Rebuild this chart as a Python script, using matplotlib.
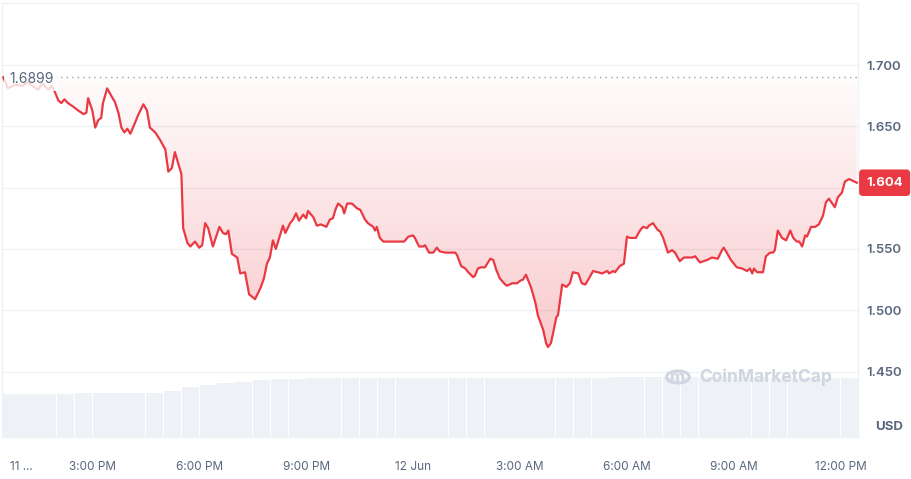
import matplotlib
matplotlib.use('Agg')
import matplotlib.pyplot as plt
from matplotlib.patches import Circle
import numpy as np

# minutes after 11 Jun 12:30 PM
times = [0, 8, 20, 32, 42, 49, 59, 66, 76, 82, 87, 93, 98, 103, 109, 118, 126, 135, 140, 143,
         150, 155, 160, 165, 168, 175, 183, 188, 194, 199, 204, 209, 214, 222, 227, 236, 242, 247, 256, 264,
         273, 278, 284, 289, 300, 303, 310, 315, 323, 330, 335, 340, 345, 353, 364, 370, 375, 379, 385, 394,
         399, 407, 414, 424, 433, 439, 444, 449, 454, 459, 471, 475, 483, 488, 493, 498, 505, 510, 513, 522,
         528, 535, 544, 550, 555, 560, 564, 571, 574, 579, 587, 596, 601, 609, 614, 623, 626, 629, 634, 640,
         648, 655, 665, 675, 682, 690, 693, 700, 707, 710, 717, 724, 730, 735, 744, 756, 761, 764, 771, 778,
         783, 791, 794, 799, 804, 811, 820, 825, 830, 836, 845, 848, 857, 865, 870, 875, 880, 889, 896, 900,
         909, 914, 917, 922, 926, 931, 934, 941, 948, 954, 959, 968, 974, 980, 985, 993, 1001, 1008, 1017, 1020,
         1027, 1030, 1038, 1045, 1050, 1055, 1065, 1072, 1077, 1084, 1087, 1094, 1101, 1106, 1111, 1119, 1126, 1131, 1139, 1146,
         1153, 1160, 1165, 1173, 1185, 1193, 1203, 1210, 1213, 1218, 1225, 1230, 1235, 1244, 1252, 1257, 1261, 1264, 1269, 1279,
         1284, 1291, 1296, 1299, 1304, 1311, 1318, 1325, 1330, 1336, 1340, 1345, 1350, 1353, 1360, 1367, 1373, 1380, 1385, 1390,
         1400, 1405, 1412, 1417, 1424, 1437]

prices = [1.690, 1.681, 1.684, 1.683, 1.686, 1.683, 1.680, 1.685, 1.680, 1.683, 1.678, 1.671, 1.669, 1.672, 1.669, 1.666, 1.663, 1.660, 1.661, 1.673,
          1.663, 1.649, 1.655, 1.657, 1.669, 1.681, 1.674, 1.670, 1.661, 1.649, 1.645, 1.648, 1.644, 1.653, 1.659, 1.668, 1.663, 1.649, 1.645, 1.639,
          1.631, 1.613, 1.616, 1.629, 1.611, 1.567, 1.555, 1.552, 1.556, 1.551, 1.553, 1.571, 1.567, 1.552, 1.568, 1.563, 1.562, 1.565, 1.546, 1.543,
          1.530, 1.531, 1.513, 1.509, 1.518, 1.526, 1.538, 1.543, 1.557, 1.550, 1.569, 1.563, 1.571, 1.574, 1.579, 1.573, 1.578, 1.575, 1.581, 1.576,
          1.569, 1.570, 1.568, 1.574, 1.575, 1.583, 1.587, 1.584, 1.579, 1.587, 1.587, 1.583, 1.582, 1.574, 1.571, 1.568, 1.565, 1.568, 1.559, 1.556,
          1.556, 1.556, 1.556, 1.556, 1.560, 1.561, 1.559, 1.552, 1.552, 1.553, 1.547, 1.547, 1.551, 1.548, 1.547, 1.547, 1.547, 1.545, 1.536, 1.534,
          1.531, 1.527, 1.528, 1.534, 1.535, 1.535, 1.542, 1.541, 1.533, 1.526, 1.521, 1.520, 1.522, 1.522, 1.524, 1.525, 1.529, 1.518, 1.506, 1.496,
          1.484, 1.473, 1.470, 1.473, 1.482, 1.494, 1.496, 1.521, 1.519, 1.522, 1.531, 1.530, 1.522, 1.521, 1.525, 1.532, 1.531, 1.530, 1.532, 1.530,
          1.532, 1.531, 1.536, 1.538, 1.560, 1.559, 1.559, 1.565, 1.568, 1.567, 1.569, 1.571, 1.566, 1.564, 1.559, 1.547, 1.549, 1.547, 1.540, 1.543,
          1.543, 1.543, 1.544, 1.539, 1.541, 1.543, 1.542, 1.549, 1.551, 1.547, 1.541, 1.538, 1.535, 1.534, 1.532, 1.534, 1.530, 1.534, 1.531, 1.531,
          1.544, 1.547, 1.547, 1.549, 1.565, 1.559, 1.557, 1.565, 1.559, 1.556, 1.556, 1.552, 1.561, 1.560, 1.568, 1.568, 1.570, 1.577, 1.588, 1.591,
          1.584, 1.592, 1.596, 1.605, 1.607, 1.604]

# half-hour volume bars (relative units)
vol_times = [15 + 30 * i for i in range(48)]
volumes = [43, 43, 43, 43, 44, 44, 44, 44, 44, 46, 50, 52, 54, 55, 57, 58,
           58, 59, 59, 59, 59, 59, 59, 59, 59, 59, 59, 59, 59, 59, 59, 59,
           59, 59, 60, 60, 60, 60, 60, 60, 60, 60, 60, 59, 59, 59, 59, 59]

open_price = 1.6899
tick_pos = [30, 150, 330, 510, 690, 870, 1050, 1230, 1410]
tick_lbl = ['11 ...', '3:00 PM', '6:00 PM', '9:00 PM', '12 Jun', '3:00 AM', '6:00 AM', '9:00 AM', '12:00 PM']
yticks = [1.45, 1.50, 1.55, 1.60, 1.65, 1.70]

red = '#ea3943'
txt = '#58667e'
grid = '#eff2f5'
plt.rcParams['font.family'] = ['Inter', 'DejaVu Sans']

W, H = 912, 479
fig = plt.figure(figsize=(W / 100, H / 100), dpi=100)
rect = [2 / W, (H - 437) / H, 856 / W, 434 / H]

# volume in the background
axv = fig.add_axes(rect)
axv.bar(vol_times, volumes, width=29, color='#eef1f6', linewidth=0)
axv.set_xlim(-2, 1439)
axv.set_ylim(0, 434)
axv.axis('off')

ax = fig.add_axes(rect)
ax.patch.set_visible(False)

for s in ax.spines.values():
    s.set_color(grid)
    s.set_linewidth(1)

# the 1.600 label sits under the last-price badge
ax.set_yticks(yticks)
ax.set_yticklabels(['' if abs(v - 1.60) < 1e-9 else '%.3f' % v for v in yticks])
ax.yaxis.tick_right()
ax.tick_params(axis='y', length=0, pad=6, labelsize=9.5, labelcolor=txt)
for lb in ax.get_yticklabels():
    lb.set_fontweight('semibold')
ax.set_xticks(tick_pos)
ax.set_xticklabels(tick_lbl)
ax.tick_params(axis='x', length=0, pad=17, labelsize=8.5, labelcolor=txt)
ax.grid(axis='y', color=grid, linewidth=1)
ax.set_axisbelow(True)

# gradient fill between line and opening price
poly = ax.fill_between(times, prices, open_price, color='none', linewidth=0)
grad = np.zeros((100, 1, 4))
grad[:, 0, 0] = 0xea / 255
grad[:, 0, 1] = 0x39 / 255
grad[:, 0, 2] = 0x43 / 255
grad[:, 0, 3] = np.linspace(0.27, 0.02, 100)
img = ax.imshow(grad, extent=[times[0], times[-1], 1.465, open_price], aspect='auto',
                origin='lower', zorder=1)
img.set_clip_path(poly.get_paths()[0], transform=ax.transData)
ax.set_xlim(-2, 1439)
ax.set_ylim(1.3966, 1.7506)

ax.plot(times, prices, color=red, linewidth=1.6, zorder=3, solid_joinstyle='round')
ax.axhline(open_price, xmin=0.062, color='#9aa3af', linewidth=1, linestyle=(0, (1, 3)), zorder=2)

ax.text(10, open_price - 0.0015, '1.6899', color=txt, fontsize=10, va='center', ha='left', zorder=4,
        bbox=dict(boxstyle='square,pad=0.35', fc='white', ec='none', alpha=0.8))

# last price badge
ax.annotate('%.3f' % prices[-1], xy=(1, prices[-1]), xycoords=('axes fraction', 'data'),
            xytext=(6, 0), textcoords='offset points', ha='left', va='center',
            color='white', fontsize=9.5, fontweight='bold', annotation_clip=False,
            bbox=dict(boxstyle='round,pad=0.55,rounding_size=0.3', fc=red, ec='none'))

fig.text(875 / W, 1 - 427 / H, 'USD', color=txt, fontsize=9.5, fontweight='bold', va='center', ha='left')

# watermark
fig.patches.append(Circle((678 / W, 1 - 377 / H), 0.0125, transform=fig.transFigure,
                          fill=False, ec='#cfd6df', lw=2.2))
fig.text(678 / W, 1 - 378 / H, 'm', color='#cfd6df', fontsize=12, fontweight='bold', ha='center', va='center')
fig.text(699 / W, 1 - 377 / H, 'CoinMarketCap', color='#cfd6df', fontsize=12.5, fontweight='bold',
         ha='left', va='center')

fig.savefig('out.png', dpi=100)
